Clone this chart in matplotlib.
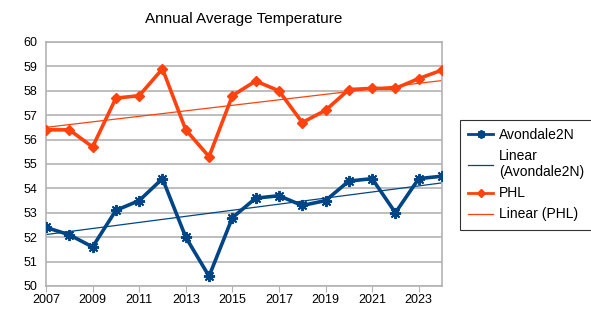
import numpy as np
import matplotlib.pyplot as plt

plt.rcParams['font.family'] = ['Liberation Sans', 'DejaVu Sans']

years = list(range(2007, 2025))
avondale = [52.4, 52.1, 51.6, 53.1, 53.5, 54.4, 52.0, 50.4, 52.8,
            53.6, 53.7, 53.3, 53.5, 54.3, 54.4, 53.0, 54.4, 54.5]
phl = [56.4, 56.4, 55.7, 57.7, 57.8, 58.9, 56.4, 55.3, 57.8,
       58.4, 58.0, 56.7, 57.2, 58.05, 58.1, 58.1, 58.5, 58.85]

BLUE = '#004586'
ORANGE = '#ff420e'
GRID = '#b3b3b3'

fig = plt.figure(figsize=(5.91, 3.21), dpi=100)
ax = fig.add_axes([46 / 591, 35 / 321, 396 / 591, 244 / 321])

x = np.array(years)

def trend(vals):
    k, b = np.polyfit(x, vals, 1)
    return k * x + b

ax.plot(x, avondale, color=BLUE, lw=2.6, marker=(8, 2, 0), ms=8, mew=1.4,
        label='Avondale2N', zorder=3)
ax.plot(x, trend(avondale), color=BLUE, lw=0.9, label='Linear\n(Avondale2N)', zorder=2)
ax.plot(x, phl, color=ORANGE, lw=2.6, marker='D', ms=5.5,
        label='PHL', zorder=3)
ax.plot(x, trend(phl), color=ORANGE, lw=0.9, label='Linear (PHL)', zorder=2)

ax.set_xlim(2007, 2024)
ax.set_ylim(50, 60)
ax.set_yticks(range(50, 61))
ax.set_xticks(range(2007, 2025, 2))
ax.grid(axis='y', color=GRID, lw=1.2)
ax.set_axisbelow(True)
for s in ax.spines.values():
    s.set_color(GRID)
    s.set_linewidth(1.2)
ax.tick_params(axis='y', length=0, labelsize=9, pad=6)
ax.tick_params(axis='x', length=4, color=GRID, labelsize=9, pad=2)

ax.set_title('Annual Average Temperature', fontsize=11, pad=14)

leg = fig.legend(loc='upper left', bbox_to_anchor=(460 / 591, 1 - 120 / 321),
                 fontsize=10, frameon=True, fancybox=False, edgecolor='black',
                 handlelength=1.8, handletextpad=0.4, borderpad=0.6,
                 labelspacing=0.5, borderaxespad=0, markerscale=0.75)
leg.get_frame().set_linewidth(0.8)
for h in leg.legend_handles:
    h.set_linewidth(min(h.get_linewidth(), 2.0))

fig.savefig('out.png', dpi=100)
